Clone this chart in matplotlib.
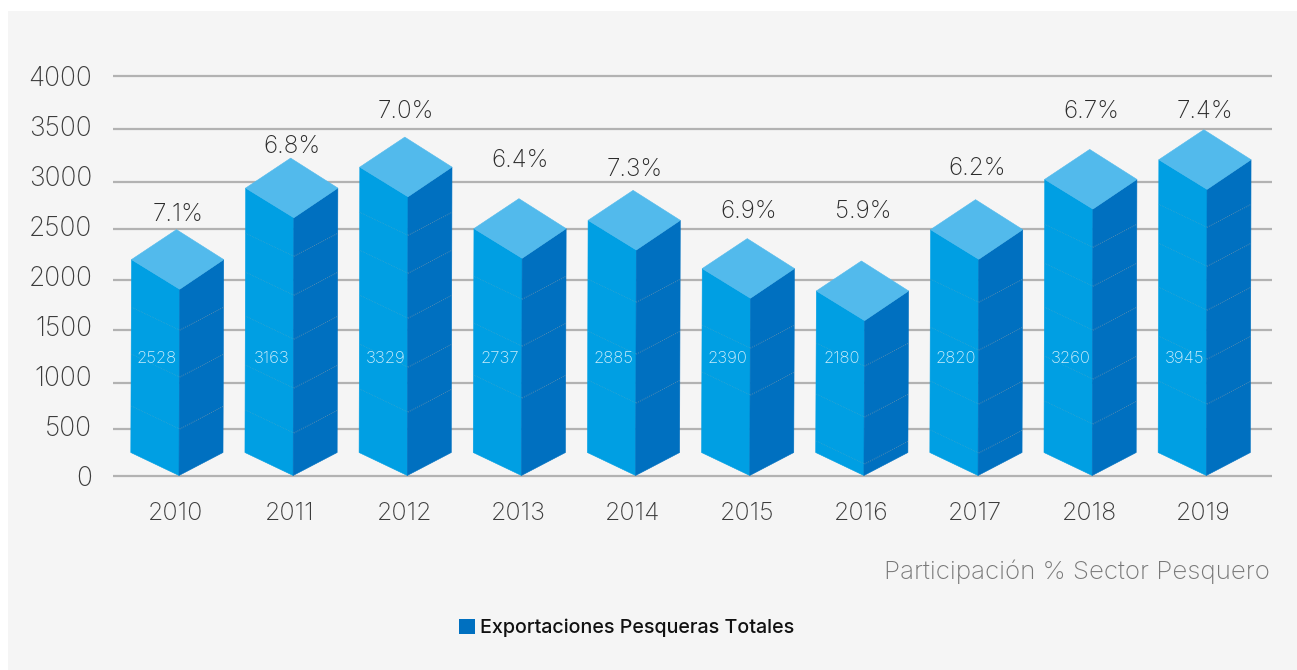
import matplotlib
matplotlib.use("Agg")
import matplotlib.pyplot as plt
from matplotlib.patches import Polygon, Patch, Rectangle

W, H = 1297, 670
years = [2010, 2011, 2012, 2013, 2014, 2015, 2016, 2017, 2018, 2019]
bar_tops = [2462, 3178, 3388, 2772, 2855, 2372, 2148, 2762, 3265, 3462]
export_labels = ["2528", "3163", "3329", "2737", "2885", "2390", "2180", "2820", "3260", "3945"]
share_labels = ["7.1%", "6.8%", "7.0%", "6.4%", "7.3%", "6.9%", "5.9%", "6.2%", "6.7%", "7.4%"]
share_heights = [2625, 3305, 3655, 3165, 3075, 2655, 2655, 3085, 3655, 3655]
dividers = [
    [1455, 985, 465],
    [2195, 1805, 1365, 875, 425],
    [2405, 2025, 1575, 1085, 635],
    [1765, 1295, 775],
    [1735, 1215, 725],
    [1275, 805],
    [1095, 585, 115],
    [1735, 1255, 715, 225],
    [2285, 1895, 1455, 965, 515],
    [2485, 2095, 1655, 1165, 715],
]
y_ticks = [0, 500, 1000, 1500, 2000, 2500, 3000, 3500, 4000]
grid_levels = [0, 465, 925, 1455, 1955, 2465, 2935, 3465, 3995]

LEFT, TOP, RIGHT, BASE = 113, 76, 1272, 475.5
STEP, X0 = 114.15, 179
FONT = "Inter"

fig = plt.figure(figsize=(W / 100, H / 100), dpi=100, facecolor="white")
fig.add_artist(Rectangle((8 / W, 0), (W - 8) / W, (H - 11) / H, transform=fig.transFigure,
                         facecolor="#f5f5f5", edgecolor="none", zorder=-10))
ax = fig.add_axes([LEFT / W, 1 - BASE / H, (RIGHT - LEFT) / W, (BASE - TOP) / H])
ax.patch.set_visible(False)
ax.set_xlim((LEFT - X0) / STEP, (RIGHT - X0) / STEP)
ax.set_ylim(0, 3995)
for s in ax.spines.values():
    s.set_visible(False)

ax.hlines(grid_levels, *ax.get_xlim(), colors="#b2b2b2", linewidth=1.6, zorder=1, clip_on=False)

hl = 47.5 / STEP        # left half width of the isometric box
hr = 44.7 / STEP        # right half width
skew = 0.7 / STEP
apex = -2.5 / STEP
side_rise = 230
top_front = 597
top_side = 300
for i, (top, divs) in enumerate(zip(bar_tops, dividers)):
    front = top - top_front
    side = top - top_side
    ax.add_patch(Polygon([(i - hl - skew, side_rise), (i, 0), (i + skew, front), (i - hl, side)],
                         facecolor="#009fe3", edgecolor="#009fe3", linewidth=0.4, zorder=3, clip_on=False))
    ax.add_patch(Polygon([(i, 0), (i + hr - skew, side_rise), (i + hr, side), (i + skew, front)],
                         facecolor="#0070c0", edgecolor="#0070c0", linewidth=0.4, zorder=3, clip_on=False))
    ax.add_patch(Polygon([(i - hl, side), (i + skew, front), (i + hr, side), (i + apex, top)],
                         facecolor="#52baec", edgecolor="#52baec", linewidth=0.4, zorder=4, clip_on=False))
    for d in divs:
        ax.plot([i - hl, i + skew], [d + side_rise, d], color="#3fa6cc", lw=0.5, ls=(0, (1, 1.5)), zorder=5)
        ax.plot([i + skew, i + hr], [d, d + side_rise], color="#6a93ae", lw=0.6, ls=(0, (1, 1.5)), zorder=5)
    ax.text(i - 22 / STEP, 1175, export_labels[i], color="#cdeefc", fontsize=12, family=FONT,
            fontweight="light", ha="center", va="center", zorder=6)
    ax.text(i - 1 / STEP, share_heights[i] - 15, share_labels[i], color="#2b2b2b", fontsize=17.5, family=FONT,
            fontweight="light", ha="center", va="center", zorder=6, clip_on=False)

ax.set_yticks(y_ticks)
ax.set_xticks([i - 3 / STEP for i in range(len(years))])
ax.set_xticklabels(years)
ax.tick_params(axis="both", length=0, labelcolor="#3c3c3c")
ax.tick_params(axis="y", pad=15, labelsize=19)
ax.tick_params(axis="x", pad=19, labelsize=18)
for t in ax.get_xticklabels() + ax.get_yticklabels():
    t.set_family(FONT)
    t.set_fontweight("light")

fig.text(1270 / W, 1 - 572 / H, "Participación % Sector Pesquero", color="#787878", fontsize=18.7,
         family=FONT, fontweight="light", ha="right", va="center")
leg = fig.legend(handles=[Patch(facecolor="#0070c0", label="Exportaciones Pesqueras Totales")],
                 loc="center left", bbox_to_anchor=(441 / W, 1 - 628 / H), frameon=False,
                 prop={"family": FONT, "size": 14.2, "weight": "medium"}, handlelength=0.8, handleheight=0.8,
                 handletextpad=0.3, labelcolor="#111111")
fig.savefig("out.png", dpi=100, facecolor="white")
